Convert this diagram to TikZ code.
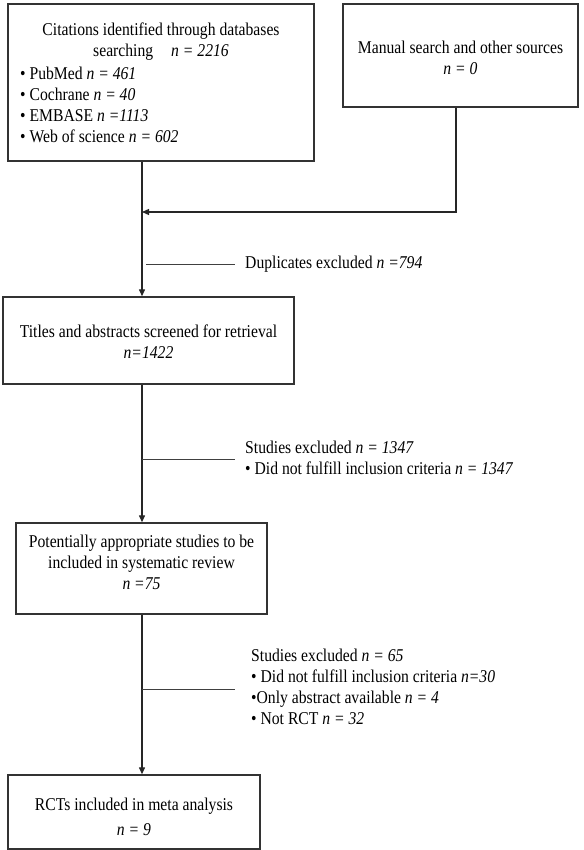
\documentclass[tikz,border=0pt]{standalone}
\usepackage{fontspec}
\setmainfont{Liberation Serif}[FakeStretch=0.87]
\usetikzlibrary{arrows.meta}
\begin{document}
\begin{tikzpicture}[x=1pt,y=-1pt,
  box/.style={draw=black!80, line width=1.4pt, inner sep=0pt, fill=white},
  txt/.style={inner sep=0pt, font=\fontsize{18}{21}\selectfont, text=black},
  conn/.style={draw=black!85, line width=1.3pt},
  arr/.style={conn, -{Triangle[length=7pt,width=6pt]}},
  branch/.style={draw=black!75, line width=0.8pt}]
\useasboundingbox (0,0) rectangle (583,850);
% boxes
\node[box, minimum width=306pt, minimum height=157pt] (b1) at (161,82.5) {};
\node[box, minimum width=235pt, minimum height=103pt] (b2) at (460.5,55.5) {};
\node[box, minimum width=291pt, minimum height=87pt] (b3) at (148.5,340.5) {};
\node[box, minimum width=251pt, minimum height=91pt] (b4) at (141.5,568.5) {};
\node[box, minimum width=252pt, minimum height=74pt] (b5) at (134,812) {};
% texts in boxes
\node[txt, align=center] (t1a) at (161,41.5) {Citations identified through databases\\searching\quad\textit{n = 2216}};
\node[txt, align=left, anchor=west] (t1b) at (20,104.5) {• PubMed \textit{n = 461}\\• Cochrane \textit{n = 40}\\• EMBASE \textit{n =1113}\\• Web of science \textit{n = 602}};
\node[txt, align=center] (t2) at (460.5,58) {Manual search and other sources\\\textit{n = 0}};
\node[txt, align=center] (t3) at (148.5,342) {Titles and abstracts screened for retrieval\\\textit{n=1422}};
\node[txt, align=center] (t4) at (141.5,562) {Potentially appropriate studies to be\\included in systematic review\\\textit{n =75}};
\node[txt, align=center] (t5) at (134,817) {RCTs included in meta analysis\\[4pt]\textit{n = 9}};
% side texts
\node[txt, anchor=west] (dup) at (245,264) {Duplicates excluded \textit{n =794}};
\node[txt, align=left, anchor=west] (ex1) at (245,457.5) {Studies excluded \textit{n = 1347}\\• Did not fulfill inclusion criteria \textit{n = 1347}};
\node[txt, align=left, anchor=west] (ex2) at (251,687) {Studies excluded \textit{n = 65}\\• Did not fulfill inclusion criteria \textit{n=30}\\•Only abstract available \textit{n = 4}\\• Not RCT \textit{n = 32}};
% coordinates
\coordinate (spine) at (142,0);
\coordinate (j1) at (142,212);
\coordinate (d1) at (146,264);
\coordinate (e1) at (235,264);
\coordinate (d2) at (142,459);
\coordinate (e2) at (235,459);
\coordinate (d3) at (142,689);
\coordinate (e3) at (235,689);
% connectors
\draw[conn] (b1.south -| spine) -- (j1);
\draw[arr] (j1) -- (b3.north -| spine);
\draw[arr] ([xshift=-4.5pt]b2.south) |- (j1);
\draw[arr] (b3.south -| spine) -- (b4.north -| spine);
\draw[arr] (b4.south -| spine) -- (b5.north -| spine);
\draw[branch] (d1) -- (e1);
\draw[branch] (d2) -- (e2);
\draw[branch] (d3) -- (e3);
\end{tikzpicture}
\end{document}
